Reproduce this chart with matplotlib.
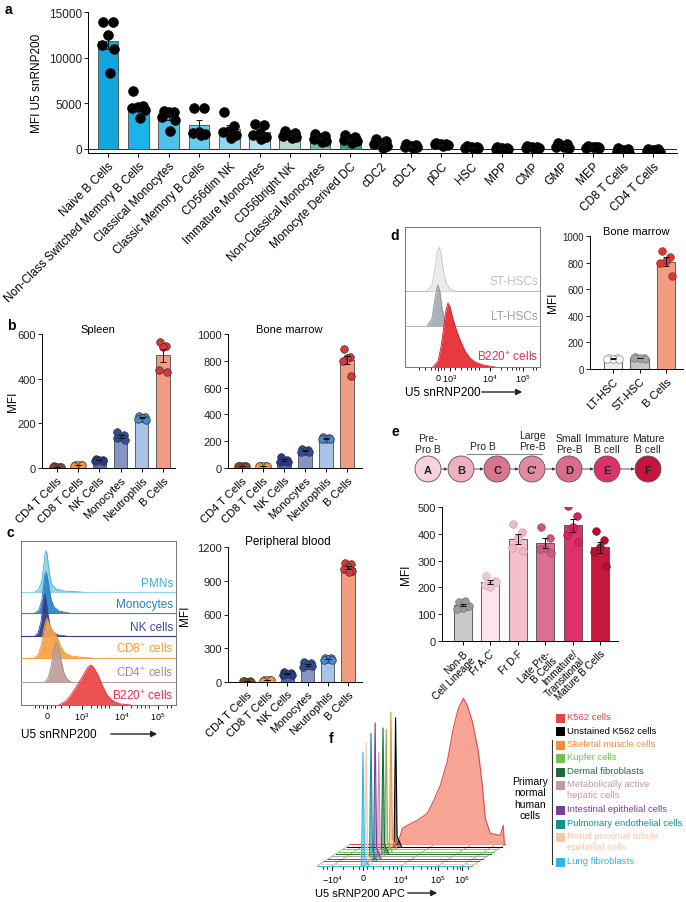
import numpy as np
import matplotlib
matplotlib.use('Agg')
import matplotlib.pyplot as plt
from matplotlib.patches import Circle, Rectangle
from matplotlib.transforms import Affine2D

plt.rcParams['font.family'] = ['Liberation Sans', 'DejaVu Sans']
plt.rcParams['mathtext.fontset'] = 'custom'
plt.rcParams['mathtext.rm'] = 'Liberation Sans'
plt.rcParams['mathtext.it'] = 'Liberation Sans:italic'
plt.rcParams['axes.linewidth'] = 0.7
plt.rcParams['xtick.major.width'] = 0.7
plt.rcParams['ytick.major.width'] = 0.7
plt.rcParams['xtick.major.size'] = 3
plt.rcParams['ytick.major.size'] = 3

# ---------------- data ----------------
# panel a - human cell types
a_labels = ['Naive B Cells', 'Non-Class Switched Memory B Cells', 'Classical Monocytes',
            'Classic Memory B Cells', 'CD56dim NK', 'Immature Monocytes', 'CD56bright NK',
            'Non-Classical Monocytes', 'Monocyte Derived DC', 'cDC2', 'cDC1', 'pDC', 'HSC',
            'MPP', 'CMP', 'GMP', 'MEP', 'CD8 T Cells', 'CD4 T Cells']
a_points = [[13900, 13900, 12500, 11400, 11000, 8300],
            [6400, 4700, 4600, 4500, 4300, 3400],
            [4200, 4000, 4000, 3500, 3200, 2000],
            [4500, 4500, 1900, 1800, 1600, 1500],
            [4000, 2500, 2000, 1900, 1500, 1200],
            [2700, 2600, 1800, 1500, 1300, 1100],
            [2000, 1800, 1500, 1400, 1300, 1200],
            [1600, 1400, 1200, 1100, 900, 800],
            [1500, 1300, 1100, 1000, 900, 700],
            [1100, 900, 700, 500, 300, 100],
            [500, 400, 300, 200, 200, 100],
            [700, 600, 500, 500, 400, 300],
            [300, 250, 200, 150, 100, 100],
            [250, 150, 100, 50, 0, 50],
            [350, 250, 200, 150, 100, 150],
            [700, 500, 300, 200, 100, 200],
            [350, 250, 200, 150, 100, 200],
            [100, -50, -150, -300, -450, -600],
            [50, -50, -150, -250, -350, -100]]
a_colors = ['#12a6df', '#1bb3e8', '#4fc0ec', '#6cc9ef', '#92d6f2', '#b4e1f4', '#b9dbcf',
            '#6fc1a4', '#2ea47f'] + ['#2ea47f'] * 10

# panels b/c - mouse cell types
bc_labels = ['CD4 T Cells', 'CD8 T Cells', 'NK Cells', 'Monocytes', 'Neutrophils', 'B Cells']
bc_fill = ['#c9a27f', '#f7c48c', '#5d6aae', '#8893c6', '#a9c2e6', '#f29c84']
bc_dot = ['#7d4b25', '#f29a3a', '#26388a', '#2f4c9c', '#4a88c9', '#d93838']
spleen_pts = [[8, 6, 5, 4, 5], [15, 13, 12, 10, 12], [40, 38, 35, 32, 33],
              [160, 148, 140, 135, 125], [235, 230, 226, 220, 215], [562, 545, 543, 440, 430]]
bm_pts = [[18, 16, 15, 14, 15], [18, 16, 15, 14, 16], [80, 62, 55, 48, 45],
          [140, 132, 125, 118, 122], [228, 225, 220, 215, 218], [890, 830, 818, 800, 690]]
pb_pts = [[6, 5, 4, 5, 4], [20, 18, 15, 12, 14], [85, 78, 70, 65, 62],
          [178, 165, 150, 135, 140], [215, 210, 205, 200, 198], [1060, 1045, 1025, 1005, 990, 975]]

# panel c histograms (x in display channels, height in counts scaled)
c_names = ['PMNs', 'Monocytes', 'NK cells', r'CD8$^{+}$ cells', r'CD4$^{+}$ cells', r'B220$^{+}$ cells']
c_fill = ['#8fd3ec', '#2f86c6', '#2c3f8e', '#f5a34a', '#bf9f9c', '#ec4a4a']
c_text = ['#3ab0d8', '#2a7fc0', '#3d4a9a', '#f29a3a', '#a88a84', '#e0304a']
c_curves_x = [[14, 18, 21, 23, 24, 25, 26, 27, 29, 31, 35, 42, 60],
              [14, 18, 21, 23, 24, 25, 26, 28, 30, 33, 38, 48],
              [14, 17, 20, 22, 23, 24, 25, 27, 29, 32, 37, 45],
              [13, 17, 20, 23, 25, 26, 28, 30, 32, 34, 37, 40, 44, 50, 60, 70],
              [24, 27, 30, 32, 34, 35, 36, 38, 40, 43, 46, 50],
              [38, 45, 50, 55, 60, 64, 67, 70, 73, 77, 81, 86, 92, 100, 110]]
c_curves_h = [[0, 3, 12, 28, 38, 41, 39, 30, 15, 7, 3, 1, 0],
              [0, 3, 14, 32, 39, 41, 38, 26, 14, 6, 2, 0],
              [0, 3, 14, 32, 40, 42, 37, 22, 10, 4, 1, 0],
              [0, 3, 12, 30, 38, 40, 35, 29, 27, 25, 19, 11, 5, 2, 0.8, 0],
              [0, 4, 15, 28, 37, 40, 39, 33, 22, 9, 3, 0],
              [0, 4, 10, 18, 26, 33, 38, 40, 37, 30, 20, 10, 4, 1, 0]]

# panel d
d_names = ['ST-HSCs', 'LT-HSCs', r'B220$^{+}$ cells']
d_fill = ['#ebebeb', '#a9b1b9', '#e8393f']
d_edge = ['#c4c4c4', '#8a9299', '#d02030']
d_text = ['#c0c0c0', '#9aa0a8', '#e0304a']
d_curves_x = [[22, 27, 30, 32, 34, 36, 38, 41, 45, 50],
              [22, 27, 30, 32, 33, 35, 37, 40, 44, 48],
              [28, 33, 36, 39, 41, 43, 45, 48, 52, 56, 60, 65, 70, 78, 90]]
d_curves_h = [[0, 6, 22, 38, 44, 38, 22, 8, 2, 0],
              [0, 8, 28, 39, 41, 34, 18, 6, 1, 0],
              [0, 6, 20, 42, 57, 64, 60, 48, 35, 25, 16, 9, 5, 2, 0]]
d_labels = ['LT-HSC', 'ST-HSC', 'B Cells']
d_pts = [[85, 82, 78, 75, 72], [88, 85, 82, 80, 78], [890, 840, 815, 795, 700]]
d_fill_bar = ['#ececec', '#c6c6c6', '#f29c84']
d_dot = ['#ffffff', '#a4a4a4', '#d93838']
d_dot_edge = ['#8c8c8c', '#7c7c7c', '#b02020']

# panel e
e_stage_letters = ['A', 'B', 'C', "C'", 'D', 'E', 'F']
e_stage_colors = ['#f5d3dc', '#efb0c0', '#d9758f', '#e28ba0', '#d86e8b', '#e0306c', '#c8143a']
e_labels = ['Non-B\nCell Lineage', "Fr A-C'", 'Fr D-F', 'Late Pre-\nB Cells',
            'Immature/\nTransitional', 'Mature B Cells']
e_pts = [[146, 131, 125, 119, 131, 150], [241, 225, 202, 208, 219],
         [437, 406, 384, 346, 337], [425, 384, 346, 344, 330],
         [502, 466, 425, 394, 369], [409, 377, 350, 331, 281]]
e_fill = ['#c9c9c9', '#fce6ec', '#f3bfcb', '#db6f8f', '#e0306a', '#c8183a']
e_dot = ['#9a9a9a', '#f2c7d2', '#efb8c6', '#c85a7c', '#d2285c', '#b01030']

# panel f
f_names = ['K562 cells', 'Unstained K562 cells', 'Skeletal muscle cells', 'Kupfer cells',
           'Dermal fibroblasts', 'Metabolically active\nhepatic cells',
           'Intestinal epithelial cells', 'Pulmonary endothelial cells',
           'Renal proximal tubule\nepithelial cells', 'Lung fibroblasts']
f_colors = ['#e8424a', '#000000', '#f0903e', '#72c052', '#1f6a3a', '#c39aa0',
            '#7a3f98', '#119290', '#f8c9a8', '#2fb8e2']
k562_x = [1, 4, 6, 11, 21, 31, 37, 44, 51, 57, 62, 67, 71, 76, 82, 86, 89, 94, 104, 107, 108]
k562_h = [0, 9, 16, 19, 24, 31, 43, 59, 83, 116, 136, 146, 139, 123, 93, 59, 26, 11, 9, 19, 0]
f_peak_pos = [3, 2, 1, 1.5, 1, 1, 0.6, -0.5, 0]       # rows 1..9
f_peak_h = [129, 137, 122, 126, 104, 136, 128, 121, 114]

# ---------------- figure ----------------
W, H = 686, 903
fig = plt.figure(figsize=(W / 100, H / 100), dpi=100)
fig.patch.set_facecolor('white')


def add_ax(l, t, r, b):
    return fig.add_axes([l / W, 1 - b / H, (r - l) / W, (b - t) / H])


def ftext(x, y, s, **kw):
    fig.text(x / W, 1 - y / H, s, **kw)


def arrow(x0, x1, y):
    fig.add_artist(matplotlib.patches.FancyArrowPatch((x0 / W, 1 - y / H), (x1 / W, 1 - y / H),
                   transform=fig.transFigure, arrowstyle='-|>', mutation_scale=9,
                   color='#222222', lw=1.0))


jit = np.array([-0.22, 0.22, 0.0, -0.28, 0.28, 0.08, -0.1])


def bar_panel(ax, labels, pts, fills, dots, edges, ymax, yticks, xl, xr, width, s, fs=8,
              ymin=0, lsp=1.2):
    x = np.arange(len(pts))
    means = np.array([np.mean(p) for p in pts])
    sems = np.array([np.std(p, ddof=1) / np.sqrt(len(p)) for p in pts])
    ax.bar(x, means, width, color=fills, edgecolor='#4a4a4a', lw=0.6, zorder=1)
    ax.errorbar(x, means, yerr=sems, fmt='none', ecolor='#111111', elinewidth=0.7,
                capsize=2.5, capthick=0.7, zorder=3)
    for i, p in enumerate(pts):
        ax.scatter(i + jit[:len(p)] * width * 1.1, p, s=s, c=dots[i], edgecolors=edges[i],
                   linewidths=0.5, zorder=2)
    ax.set_xlim(xl, xr)
    ax.set_ylim(ymin, ymax)
    ax.set_yticks(yticks)
    ax.tick_params(axis='y', labelsize=fs, pad=1.5, colors='#222222')
    ax.set_xticks(x)
    ax.set_xticklabels(labels, rotation=45, ha='right', rotation_mode='anchor', fontsize=fs,
                       linespacing=lsp)
    ax.tick_params(axis='x', pad=2)
    for sp in ['top', 'right']:
        ax.spines[sp].set_visible(False)
    return ax


# ---- panel a ----
ax = add_ax(88, 13, 677, 154)
dk = ['#111111'] * len(a_points)
bar_panel(ax, a_labels, a_points, a_colors, ['#000000'] * 19, dk, 15000, [0, 5000, 10000, 15000],
          (88 - 108) / 30.3, (677 - 108) / 30.3, 0.68, 50, fs=8.5, ymin=-440)
ax.axhline(0, color='#222222', lw=0.7, zorder=0)
ax.set_ylabel('MFI U5 snRNP200', fontsize=8.5, labelpad=4)

# ---- panel b ----
ax = add_ax(42, 335, 175, 469)
bar_panel(ax, bc_labels, spleen_pts, bc_fill, bc_dot, ['#333333'] * 6, 600, [0, 200, 400, 600],
          (42 - 57) / 21.2, (175 - 57) / 21.2, 0.62, 30)
ftext(13, 402, 'MFI', fontsize=8.5, rotation=90, ha='center', va='center')
ax.set_title('Spleen', fontsize=8, pad=-4, x=0.42)

ax = add_ax(228, 335, 362, 469)
bar_panel(ax, bc_labels, bm_pts, bc_fill, bc_dot, ['#333333'] * 6, 1000,
          [0, 200, 400, 600, 800, 1000], (228 - 242) / 21, (362 - 242) / 21, 0.62, 30)
ax.set_title('Bone marrow', fontsize=8, pad=-2, x=0.46)

# ---- panel c bar ----
ax = add_ax(228, 548, 362, 683)
bar_panel(ax, bc_labels, pb_pts, bc_fill, bc_dot, ['#333333'] * 6, 1200,
          [0, 300, 600, 900, 1200], (228 - 247) / 20.2, (362 - 247) / 20.2, 0.66, 30)
ax.set_ylabel('MFI', fontsize=8.5, labelpad=4)
ax.set_title('Peripheral blood', fontsize=8.5, pad=2, x=0.45)

# ---- panel c histogram ----
ax = add_ax(21, 542, 176, 706)
ax.set_xlim(0, 155)
ax.set_ylim(0, 164)
c_base = [113, 92, 69, 47, 23, 0]
for i in range(6):
    b = c_base[i]
    xs = np.array(c_curves_x[i])
    hs = np.array(c_curves_h[i])
    ax.axhline(b, color=c_fill[i] if i < 5 else '#888888', lw=0.8, zorder=2 * i)
    ax.fill_between(xs, b, b + hs, color=c_fill[i], lw=0, zorder=2 * i + 1, alpha=0.95)
    ax.plot(xs, b + hs, color=c_text[i], lw=0.6, zorder=2 * i + 1)
    ax.text(152, b + 3, c_names[i], ha='right', va='bottom', fontsize=8.5, color=c_text[i],
            zorder=20)
for sp in ax.spines.values():
    sp.set_color('#777777')
ax.set_yticks([])
ax.set_xticks([26, 61, 101, 137])
ax.set_xticklabels(['0', r'$\mathregular{10^3}$', r'$\mathregular{10^4}$', r'$\mathregular{10^5}$'],
                   fontsize=6.5)
ax.set_xticks([14, 18, 22, 30, 34, 40, 48, 70, 76, 80, 84, 88, 110, 116, 120, 124, 128, 146, 150],
              minor=True)
ax.tick_params(axis='x', which='minor', length=2, width=0.6)
ax.tick_params(axis='x', which='major', length=3, pad=1)
ftext(21, 735, 'U5 snRNP200', fontsize=8.5, va='center')
arrow(108, 160, 735)

# ---- panel d histogram ----
ax = add_ax(405, 228, 540, 368)
ax.set_xlim(0, 135)
ax.set_ylim(0, 140)
d_base = [76, 41, 0]
for i in range(3):
    b = d_base[i]
    xs = np.array(d_curves_x[i])
    hs = np.array(d_curves_h[i])
    ax.axhline(b, color='#b8b8b8', lw=0.7, zorder=2 * i)
    ax.fill_between(xs, b, b + hs, color=d_fill[i], lw=0, zorder=2 * i + 1)
    ax.plot(xs, b + hs, color=d_edge[i], lw=0.6, zorder=2 * i + 1)
    ax.text(133, b + 4, d_names[i], ha='right', va='bottom', fontsize=8.5, color=d_text[i],
            zorder=20)
for sp in ax.spines.values():
    sp.set_color('#777777')
ax.set_yticks([])
ax.set_xticks([33, 45, 85, 118])
ax.set_xticklabels(['0', r'$\mathregular{10^3}$', r'$\mathregular{10^4}$', r'$\mathregular{10^5}$'],
                   fontsize=6.5)
ax.set_xticks([14, 20, 26, 30, 36, 39, 50, 56, 62, 66, 70, 74, 96, 102, 107, 111, 114, 128, 131],
              minor=True)
ax.tick_params(axis='x', which='minor', length=2, width=0.6)
ax.tick_params(axis='x', which='major', length=3, pad=1)
ftext(405, 393, 'U5 snRNP200', fontsize=8.5, va='center')
arrow(479, 525, 393)

# ---- panel d bar ----
ax = add_ax(590, 237, 683, 370)
bar_panel(ax, d_labels, d_pts, d_fill_bar, d_dot, d_dot_edge, 1000, [0, 200, 400, 600, 800, 1000],
          (590 - 613) / 26.5, (683 - 613) / 26.5, 0.68, 30)
ax.tick_params(axis='y', labelsize=7)
ftext(553, 303, 'MFI', fontsize=8.5, rotation=90, ha='center', va='center')
ax.set_title('Bone marrow', fontsize=8, pad=-8, x=0.5)

# ---- panel e diagram ----
ax = add_ax(400, 425, 686, 490)
ax.set_xlim(400, 686)
ax.set_ylim(490, 425)
ax.set_aspect('equal')
ax.axis('off')
stage_x = [428, 461, 497, 532, 569, 607, 648]
for i, (lt, col) in enumerate(zip(e_stage_letters, e_stage_colors)):
    ax.add_patch(Circle((stage_x[i], 470), 13, facecolor=col, edgecolor='#555555', lw=0.6))
    ax.text(stage_x[i], 470.5, lt, ha='center', va='center', fontsize=8, fontweight='bold',
            color='#222222')
    if i > 0:
        ax.annotate('', xy=(stage_x[i] - 13.5, 470), xytext=(stage_x[i - 1] + 13.5, 470),
                    arrowprops=dict(arrowstyle='-|>', color='#333333', lw=0.6,
                                    mutation_scale=4, shrinkA=0, shrinkB=0))
for x, s in zip([428, 532, 569, 607, 648], ['Pre-\nPro B', 'Large\nPre-B', 'Small\nPre-B',
                                            'Immature\nB cell', 'Mature\nB cell']):
    ax.text(x, 455 if x != 532 else 452, s, ha='center', va='bottom', fontsize=7.5,
            linespacing=1.1, color='#222222')
ax.text(483, 452, 'Pro B', ha='center', va='bottom', fontsize=7.5, color='#222222')
ax.plot([467, 542], [455, 455], color='#888888', lw=0.8)

# ---- panel e bar ----
ax = add_ax(442, 508, 618, 642)
bar_panel(ax, e_labels, e_pts, e_fill, e_dot, ['#777777', '#d8a8b4', '#d898aa', '#a84868',
                                                '#a81848', '#901028'],
          500, [0, 100, 200, 300, 400, 500], (442 - 463) / 27.4, (618 - 463) / 27.4, 0.66, 30,
          fs=7.2, lsp=0.95)
ax.tick_params(axis='y', labelsize=8)
ax.set_ylabel('MFI', fontsize=8.5, labelpad=4)

# ---- panel f ----
ax = add_ax(300, 690, 520, 903)
ax.set_xlim(-63, 157)
ax.set_ylim(-36, 177)
ax.axis('off')
dx, dy = 3.7, 2.4
nrow = len(f_colors)
for i in range(nrow):
    off = nrow - 1 - i
    tr = Affine2D().translate(off * dx, off * dy) + ax.transData
    ax.plot([-46, 109], [0, 0], color=f_colors[i], lw=0.7, transform=tr, zorder=1 + i)
    if i == 0:
        ax.fill_between(k562_x, 0, k562_h, color='#f6a595', lw=0, transform=tr, zorder=1)
        ax.plot(k562_x, k562_h, color='#e04a4a', lw=0.8, transform=tr, zorder=1)
    else:
        p, h = f_peak_pos[i - 1], f_peak_h[i - 1]
        xs = [p - 1.5, p, p + 1.5, p + 6]
        hs = [0, h, h * 0.08, 0]
        ax.fill(xs, hs, color=f_colors[i], alpha=0.45, lw=0, transform=tr, zorder=2 + i)
        ax.plot(xs, hs, color=f_colors[i], lw=0.8, transform=tr, zorder=2 + i)
# slanted floor lines
for c in [-46, -31, 0, 38, 75, 99, 109]:
    ax.plot([c, c + (nrow - 1) * dx], [0, (nrow - 1) * dy], color='#999999', lw=0.5, zorder=0)
f_ticks = [-31, 0, 38, 75, 99]
f_tlab = [r'$\mathregular{-10^4}$', '0', r'$\mathregular{10^4}$', r'$\mathregular{10^5}$',
          r'$\mathregular{10^6}$']
for c, s in zip(f_ticks, f_tlab):
    ax.plot([c, c], [0, -4], color='#222222', lw=0.7)
    ax.text(c, -7, s, ha='center', va='top', fontsize=6.5)
for c in [-40, -36, -20, -10, -4, 4, 10, 20, 26, 30, 34, 50, 58, 64, 68, 72, 84, 90, 94, 97, 105]:
    ax.plot([c, c], [0, -2.5], color='#222222', lw=0.6)
ftext(315, 894, 'U5 sRNP200 APC', fontsize=8, va='center')
arrow(405, 440, 894)

# legend f
yy = 719
for name, col in zip(f_names, f_colors):
    fig.add_artist(Rectangle((556 / W, 1 - (yy + 4.5) / H), 9 / W, 9 / H,
                             transform=fig.transFigure, facecolor=col, edgecolor='none'))
    ftext(567, yy - 6, name, fontsize=6.8, color=col, va='top', linespacing=1.25)
    yy += 25 if '\n' in name else 13.5
fig.add_artist(matplotlib.lines.Line2D([552 / W, 552 / W], [1 - 741 / H, 1 - 865 / H],
                                       color='#333333', lw=0.8))
ftext(530, 799, 'Primary\nnormal\nhuman\ncells', fontsize=7.5, ha='center', va='center',
      linespacing=1.15)

# panel letters
for x, y, s in [(5, 10, 'a'), (7, 326, 'b'), (7, 533, 'c'), (390, 236, 'd'), (392, 432, 'e'),
                (329, 739, 'f')]:
    ftext(x, y, s, fontsize=10, fontweight='bold', va='center')

fig.savefig('out.png', dpi=100)
